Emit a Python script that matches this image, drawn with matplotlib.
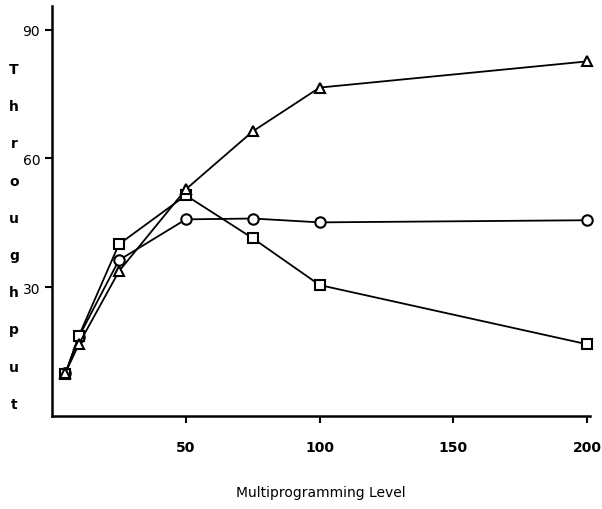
import matplotlib
matplotlib.use("Agg")
import matplotlib.pyplot as plt

# Throughput against multiprogramming level for three configurations
mpl_level = [5, 10, 25, 50, 75, 100, 200]
tri_throughput = [10, 16.7, 33.7, 52.8, 66.3, 76.5, 82.6]
circ_throughput = [10, 18.4, 36.3, 45.8, 46.0, 45.1, 45.6]
sq_throughput = [9.8, 18.6, 40.0, 51.4, 41.4, 30.5, 16.7]

x_ticks = [50, 100, 150, 200]
y_ticks = [30, 60, 90]
y_label = "Throughput"

fig = plt.figure(figsize=(6.02, 5.10), dpi=100)
ax = fig.add_axes([52/602, 1 - 417/510, (590 - 52)/602, (417 - 7)/510])

style = dict(color="black", linewidth=1.3, markersize=7.5, markerfacecolor="white",
             markeredgewidth=1.5, clip_on=False)
ax.plot(mpl_level, circ_throughput, marker="o", **style)
ax.plot(mpl_level, sq_throughput, marker="s", **style)
ax.plot(mpl_level, tri_throughput, marker="^", **style)

ax.set_xlim(0, 201)
ax.set_ylim(0, 95.5)
ax.set_xticks(x_ticks)
ax.set_yticks(y_ticks)
ax.tick_params(axis="both", direction="out", length=5, width=1.5, labelsize=10)
ax.tick_params(axis="x", pad=12)
for lbl in ax.get_xticklabels():
    lbl.set_fontweight("bold")

for side in ["top", "right"]:
    ax.spines[side].set_visible(False)
for side in ["left", "bottom"]:
    ax.spines[side].set_linewidth(1.8)

# vertical axis title written as a column of letters
for i, ch in enumerate(y_label):
    fig.text(14/602, 1 - (70 + i*37.2)/510, ch, ha="center", va="center",
             fontsize=10, fontweight="bold")

fig.text(321/602, 1 - 493/510, "Multiprogramming Level", ha="center", va="center",
         fontsize=10)

fig.savefig("out.png", dpi=100)
